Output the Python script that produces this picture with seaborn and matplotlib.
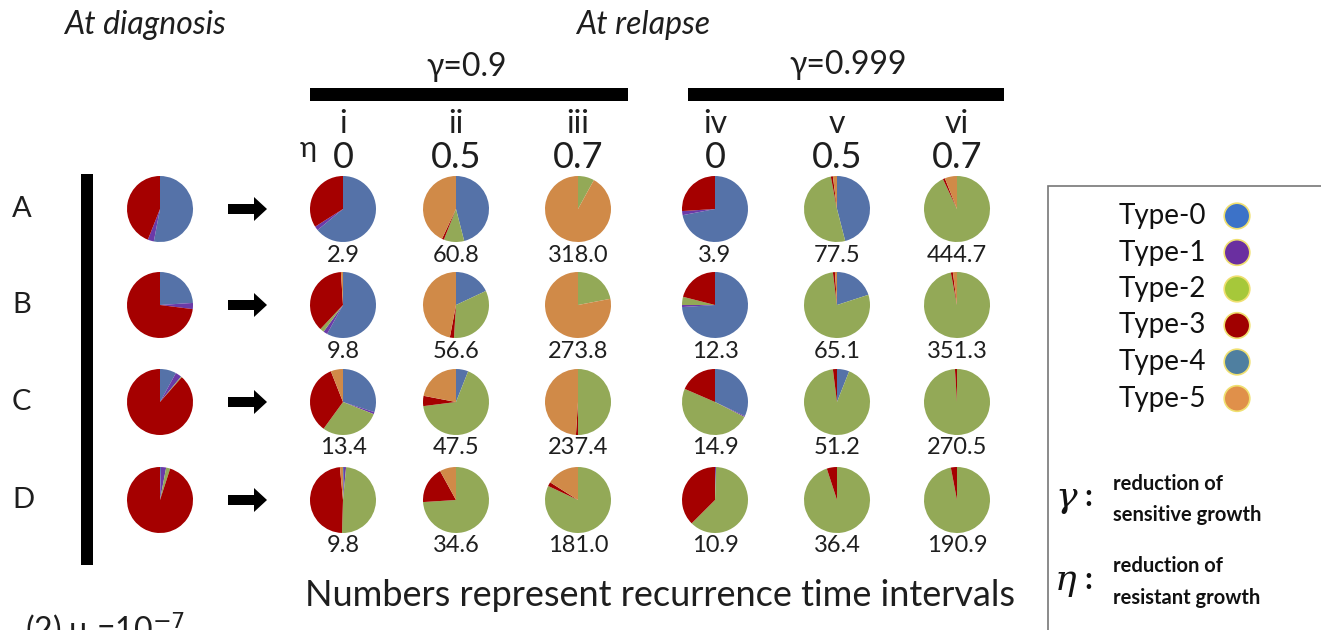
import matplotlib
matplotlib.use("Agg")
import matplotlib.pyplot as plt
import matplotlib.patches as mpatches
import numpy as np
import pandas as pd
import seaborn as sns

# cell types in the order the pie slices run (clockwise from 12 o'clock)
types = ["Type-0", "Type-1", "Type-2", "Type-3", "Type-4", "Type-5"]
pie_colors = ["#5572A8", "#6B3AA8", "#93A957", "#A50000", "#4A86A0", "#D08A48"]
legend_colors = ["#3C72C8", "#6A2FA0", "#A6C83A", "#A00000", "#4F7FA0", "#E0904A"]

rows = ["A", "B", "C", "D"]
roman = ["i", "ii", "iii", "iv", "v", "vi"]
eta_labels = ["0", "0.5", "0.7", "0", "0.5", "0.7"]

# composition at diagnosis (%), one per row
diag_A = [53, 3, 0, 44, 0, 0]
diag_B = [24, 3, 0, 73, 0, 0]
diag_C = [8, 3, 0.5, 88.5, 0, 0]
diag_D = [0.5, 2.5, 2, 95, 0, 0]

# composition at relapse (%), columns i..vi
relapse_A = [[64, 2, 0, 34, 0, 0], [46, 0, 10, 1, 0, 43], [0, 0, 8, 0, 0, 92],
             [72, 2, 0, 26, 0, 0], [46, 0, 51, 1, 0, 2], [0, 0, 93, 1, 0, 6]]
relapse_B = [[58, 2, 2, 37, 0, 1], [18, 0, 33, 2, 0, 47], [0, 0, 22, 0, 0, 78],
             [74, 1, 4, 21, 0, 0], [20, 0, 78, 1, 0, 1], [0, 0, 97, 1, 0, 2]]
relapse_C = [[30, 1, 29, 34, 0, 6], [6, 0, 67, 5, 0, 22], [0, 0, 50, 1, 0, 49],
             [32, 0.5, 49, 18.5, 0, 0], [6, 0, 92, 2, 0, 0], [0, 0, 99, 1, 0, 0]]
relapse_D = [[0.5, 1, 49, 48, 0, 1.5], [0, 0, 74, 18, 0, 8], [0, 0, 82, 2, 0, 16],
             [0, 0.5, 62, 37.5, 0, 0], [0, 0, 95, 5, 0, 0], [0, 0, 97, 3, 0, 0]]

# recurrence time intervals
times_A = [2.9, 60.8, 318.0, 3.9, 77.5, 444.7]
times_B = [9.8, 56.6, 273.8, 12.3, 65.1, 351.3]
times_C = [13.4, 47.5, 237.4, 14.9, 51.2, 270.5]
times_D = [9.8, 34.6, 181.0, 10.9, 36.4, 190.9]

diag_all = [diag_A, diag_B, diag_C, diag_D]
relapse_all = [relapse_A, relapse_B, relapse_C, relapse_D]
times_all = [times_A, times_B, times_C, times_D]

sns.set_theme(style="white")
plt.rcParams["font.family"] = ["Lato", "DejaVu Sans"]

W, H = 1321, 630
fig = plt.figure(figsize=(W / 100, H / 100), dpi=100)
ax = fig.add_axes([0, 0, 1, 1])


def Y(p):
    return H - p


ink = "#1E1E1E"
row_y = [209, 305, 402, 500]
diag_x = 160
col_x = [343, 456, 578, 715, 837, 957]
R = 33

for r in range(4):
    cy = Y(row_y[r])
    ax.text(12, cy, rows[r], fontsize=21, ha="left", va="center", color=ink)
    ax.pie(diag_all[r], colors=pie_colors, startangle=90, counterclock=False,
           center=(diag_x, cy), radius=R, frame=True, wedgeprops=dict(linewidth=0))
    ax.add_patch(mpatches.FancyArrow(228, cy, 26, 0, width=10, head_width=24,
                                     head_length=13, color="black", lw=0))
    for c in range(6):
        ax.pie(relapse_all[r][c], colors=pie_colors, startangle=90, counterclock=False,
               center=(col_x[c], cy), radius=R, frame=True, wedgeprops=dict(linewidth=0))
        ax.text(col_x[c], cy - 46, f"{times_all[r][c]:.1f}", fontsize=17,
                ha="center", va="center", color=ink)

# vertical bar beside rows
ax.add_patch(mpatches.Rectangle((81, Y(565)), 12, 391, color="black", lw=0))

# headers
ax.text(145, Y(25), "At diagnosis", fontsize=23, style="italic", ha="center", va="center", color=ink)
ax.text(643, Y(25), "At relapse", fontsize=23, style="italic", ha="center", va="center", color=ink)
ax.add_patch(mpatches.Rectangle((310, Y(101)), 318, 13, color="black", lw=0))
ax.add_patch(mpatches.Rectangle((688, Y(101)), 316, 13, color="black", lw=0))
ax.text(467, Y(67), "γ=0.9", fontsize=23, ha="center", va="center", color=ink)
ax.text(848, Y(65), "γ=0.999", fontsize=23, ha="center", va="center", color=ink)
for c in range(6):
    ax.text(col_x[c], Y(124), roman[c], fontsize=23, ha="center", va="center", color=ink)
    ax.text(col_x[c], Y(157), eta_labels[c], fontsize=26, ha="center", va="center", color=ink)
ax.text(308, Y(149), "η", fontsize=21, ha="center", va="center", color=ink)

ax.text(660, Y(595), "Numbers represent recurrence time intervals", fontsize=26,
        ha="center", va="center", color=ink)
ax.text(25, Y(610), "(2) μ =10$^{-7}$", fontsize=23, ha="left", va="top", color=ink)

# legend box
ax.add_patch(mpatches.Rectangle((1048, Y(640)), 300, 454, fill=False, ec="#777777", lw=1.2))
leg = pd.DataFrame({"type": types,
                    "x": 1237,
                    "y": [Y(216 + 36.5 * i) for i in range(6)]})
sns.scatterplot(data=leg, x="x", y="y", hue="type", palette=legend_colors, s=340,
                edgecolor="#F0E070", linewidth=1.2, legend=False, ax=ax, zorder=5)
for i, t in enumerate(types):
    ax.text(1206, leg["y"][i], t, fontsize=20, ha="right", va="center", color="#111111")

for sym, y0 in [("γ", 497), ("η", 580)]:
    ax.text(1066, Y(y0), sym, fontsize=26, style="italic", ha="center", va="center",
            family=["DejaVu Serif"], color="#111111")
    ax.text(1088, Y(y0), ":", fontsize=22, fontweight="bold", ha="center", va="center", color="#111111")
ax.text(1113, Y(484), "reduction of", fontsize=14.5, fontweight="bold", ha="left", va="center", color="#111111")
ax.text(1113, Y(515), "sensitive growth", fontsize=14.5, fontweight="bold", ha="left", va="center", color="#111111")
ax.text(1113, Y(566), "reduction of", fontsize=14.5, fontweight="bold", ha="left", va="center", color="#111111")
ax.text(1113, Y(598), "resistant growth", fontsize=14.5, fontweight="bold", ha="left", va="center", color="#111111")

ax.set_xlim(0, W)
ax.set_ylim(0, H)
ax.set_aspect("equal")
ax.axis("off")
fig.savefig("out.png", dpi=100)
